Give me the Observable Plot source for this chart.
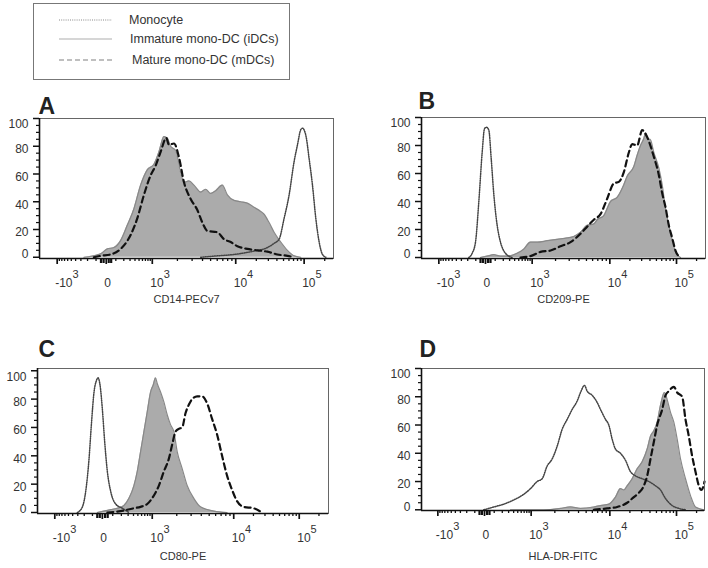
<!DOCTYPE html>
<html><head><meta charset="utf-8">
<script src="https://cdn.jsdelivr.net/npm/d3@7"></script>
<script src="https://cdn.jsdelivr.net/npm/@observablehq/plot@0.6"></script>
<style>
body{margin:0;background:#fff;}
#wrap{position:relative;width:708px;height:568px;font-family:"Liberation Sans",Arial,sans-serif;color:#333;overflow:hidden;}
.panel{position:absolute;}
#legend{position:absolute;left:33px;top:3px;width:257px;height:77px;border:1px solid #777;box-sizing:border-box;}
</style></head><body><div id="wrap"></div>
<script>
// ---------------- data ----------------
const seriesNames = ["Monocyte", "Immature mono-DC (iDCs)", "Mature mono-DC (mDCs)"];
const panelLetters = ["A", "B", "C", "D"];
const markerNames = ["CD14-PECv7", "CD209-PE", "CD80-PE", "HLA-DR-FITC"];
const tickLabels = ["-10^3", "0", "10^3", "10^4", "10^5"];
const yTickValues = [0, 20, 40, 60, 80, 100];

// channel positions (logicle display channels) of the labelled fluorescence values, per panel
const tickChA = [53, 200, 338, 588, 793];
const tickChB = [52, 192, 332, 565, 765];
const tickChC = [52, 195, 345, 590, 787];
const tickChD = [49, 189, 329, 565, 765];
const channelMaxA = 881, channelMaxB = 852, channelMaxC = 875, channelMaxD = 849;

// Panel A: CD14
const monoA_x = [483,533,583,633,683,703,718,733,748,763,773,783,788,798,808,818,828,838,848,858];
const monoA_y = [0,1,2,4,7,10,13,28,45,69,81,92,93,88,71,52,28,11,2,0];
const idcA_x = [133,183,203,223,243,263,283,303,323,343,358,373,383,393,408,423,433,448,463,483,498,513,528,548,563,583,603,623,643,663,673,688,703,723,743,763,783];
const idcA_y = [0,2.4,6,7,12,23,35,52,63,67,76,87,86,80,77,61,54,55,52,47,49,46,48,52,45,41,40,39,36,33,31,25,18,11,5,1,0];
const mdcA_x = [163,183,213,243,273,293,313,333,348,363,380,388,403,418,433,453,473,488,503,533,553,573,593,623,653,683,713,743,763];
const mdcA_y = [0,1,2,6,16,28,45,59,66,76,86,81,82,72,54,42,34,25,19,18,13,11,8,6,5,4,2,1,0];

// Panel B: CD209
const monoB_x = [142,152,162,172,182,189,195,202,209,217,227,237,252,272];
const monoB_y = [0,3,11,40,75,92,93,91,71,45,23,11,3,0];
const idcB_x = [177,197,217,237,257,287,307,327,347,377,407,437,457,477,497,517,527,547,567,587,607,617,637,647,657,667,672,679,687,697,712,722,732,747,762,777];
const idcB_y = [0,1,2,1,1,3,6,11,11,12,13,14,15,18,23,24,27,30,40,43,52,58,65,73,80,85,89,85,84,75,64,52,35,18,4,0];
const mdcB_x = [297,327,357,387,417,447,477,497,517,537,557,577,592,607,622,632,647,662,677,697,712,722,732,742,752,762,777];
const mdcB_y = [0,1,4,5,8,11,17,22,27,31,42,53,54,61,75,81,80,91,86,72,59,46,36,23,14,5,0];

// Panel C: CD80
const monoC_x = [120,135,145,155,162,170,177,182,188,195,202,210,220,235,255,275];
const monoC_y = [0,4,15,38,62,85,93,95,90,73,50,29,15,6,3,0];
const idcC_x = [180,200,220,240,260,275,290,300,310,320,330,340,348,355,360,370,380,390,400,410,420,435,450,470,490,530,570];
const idcC_y = [0,1,2,3,5,10,19,29,43,57,71,85,90,95,91,85,78,69,62,57,43,31,19,10,4,1,0];
const mdcC_x = [210,250,290,310,330,350,365,380,395,405,415,425,435,445,455,465,480,495,510,525,540,555,570,585,600,620,650,675];
const mdcC_y = [0,1,3,4,6,12,19,29,38,48,57,59,60,70,76,80,82,82,77,66,55,40,26,16,8,4,3,0];

// Panel D: HLA-DR
const monoD_x = [187,217,247,277,307,327,347,362,377,392,407,422,437,452,467,477,489,497,512,527,537,552,562,572,582,597,612,627,642,662,682,702,717,732,752,772,792];
const monoD_y = [0,2,4,7,11,15,20,22,31,36,45,57,64,71,77,83,88,84,81,76,71,64,60,50,43,40,35,27,24,22,20,17,14,8,3,1,0];
const idcD_x = [267,367,417,447,477,517,537,562,582,597,607,617,632,647,662,677,687,697,707,717,729,737,747,757,767,777,792,807,822,847];
const idcD_y = [0,0,1,2,1,2,3,4,9,15,14,17,22,29,34,43,52,56,62,74,83,78,69,62,50,36,22,10,2,0];
const mdcD_x = [517,557,587,617,637,652,667,677,687,697,707,722,732,742,757,767,782,792,802,812,822,832,839,845,849];
const mdcD_y = [0,1,2,5,9,12,17,24,36,48,60,71,81,84,87,83,80,64,52,38,27,17,14,16,20];

// ---------------- helpers ----------------
const pts = (xs, ys) => xs.map((x, i) => ({x, y: ys[i]}));
const fLin = v => Math.asinh(v / 200) / Math.asinh(1000 / 200);

function minorTicks(p, xmax) {
  const out = [];
  for (let m = 1; m <= 9; m++) {
    out.push(p[1] + (p[2] - p[1]) * fLin(m * 100));
    out.push(p[1] - (p[1] - p[0]) * fLin(m * 100));
  }
  for (let k = 2; k < 4; k++)
    for (let m = 2; m <= 9; m++) out.push(p[k] + (p[k + 1] - p[k]) * Math.log10(m));
  const dec = p[4] - p[3];
  for (let m = 2; m <= 9; m++) { const x = p[4] + dec * Math.log10(m); if (x <= xmax) out.push(x); }
  return out;
}
function zeroCluster(p) {
  const out = [];
  for (const v of [25, 50]) { out.push(p[1] + (p[2] - p[1]) * fLin(v)); out.push(p[1] - (p[1] - p[0]) * fLin(v)); }
  return out;
}

const layouts = [
  {left: 0,   top: 85,  width: 345, height: 220, mL: 39, mR: 12, mT: 33, mB: 47, lDx: -1, lDy: -12, tDy: 44},
  {left: 360, top: 85,  width: 348, height: 220, mL: 61, mR: 3,  mT: 32, mB: 47, lDx: -3, lDy: -16, tDy: 44},
  {left: 0,   top: 325, width: 345, height: 243, mL: 37, mR: 17, mT: 43, mB: 55, lDx: 1,  lDy: -19, tDy: 46},
  {left: 360, top: 325, width: 348, height: 243, mL: 61, mR: 4,  mT: 43, mB: 58, lDx: -2, lDy: -19, tDy: 49}
];
const panels = [
  {ticks: tickChA, xmax: channelMaxA, yDom: [-0.9, 100], mono: pts(monoA_x, monoA_y), idc: pts(idcA_x, idcA_y), mdc: pts(mdcA_x, mdcA_y)},
  {ticks: tickChB, xmax: channelMaxB, yDom: [-0.7, 100], mono: pts(monoB_x, monoB_y), idc: pts(idcB_x, idcB_y), mdc: pts(mdcB_x, mdcB_y)},
  {ticks: tickChC, xmax: channelMaxC, yDom: [-0.7, 101.6], mono: pts(monoC_x, monoC_y), idc: pts(idcC_x, idcC_y), mdc: pts(mdcC_x, mdcC_y)},
  {ticks: tickChD, xmax: channelMaxD, yDom: [-0.5, 100], mono: pts(monoD_x, monoD_y), idc: pts(idcD_x, idcD_y), mdc: pts(mdcD_x, mdcD_y)}
];

const wrap = d3.select("#wrap");
const AX = "#111";

panels.forEach((P, i) => {
  const L = layouts[i];
  const innerH = L.height - L.mT - L.mB;
  const tickData = P.ticks.map((ch, j) => ({ch, label: tickLabels[j]}));
  const xTicks = (vals, len, sw) => Plot.tickX(vals, {x: d => d, insetTop: innerH, insetBottom: -len, stroke: AX, strokeWidth: sw});
  const yTicks = (vals, len, sw) => Plot.ruleY(vals, {y: d => d, x1: 0, x2: 0, insetLeft: -len, stroke: AX, strokeWidth: sw});
  const yLab = (vals, dy) => Plot.axisY({ticks: vals, tickSize: 0, tickPadding: 11, label: null, dy, fontSize: 12, fill: "#333"});
  const svg = Plot.plot({
    width: L.width, height: L.height,
    marginLeft: L.mL, marginRight: L.mR, marginTop: L.mT, marginBottom: L.mB,
    x: {domain: [0, P.xmax], axis: null},
    y: {domain: P.yDom, axis: null},
    style: {fontFamily: '"Liberation Sans", Arial, sans-serif', fontSize: "12px", color: "#222", background: "transparent", overflow: "visible"},
    marks: [
      Plot.areaY(P.idc, {x: "x", y: "y", fill: "#ababab", curve: "monotone-x"}),
      Plot.lineY(P.idc, {x: "x", y: "y", stroke: "#888", strokeWidth: 1.2, curve: "monotone-x"}),
      Plot.lineY(P.mono, {x: "x", y: "y", stroke: "#444", strokeWidth: 1.5, strokeDasharray: "1,1.3", curve: "monotone-x"}),
      Plot.lineY(P.mdc, {x: "x", y: "y", stroke: "#111", strokeWidth: 2.2, strokeDasharray: "6,4", curve: "monotone-x"}),
      Plot.frame({stroke: "#666"}),
      Plot.ruleX([0], {stroke: AX, strokeWidth: 1.6}),
      Plot.ruleY([P.yDom[0]], {stroke: AX, strokeWidth: 1.6}),
      yTicks(yTickValues, 6, 1.5),
      yTicks(d3.range(5, 100, 5).filter(v => v % 20 !== 0), 3, 1.2),
      yLab([20, 40, 60, 80], 3),
      yLab([100], 6),
      yLab([0], -3),
      xTicks(P.ticks, 6, 1.7),
      xTicks(minorTicks(P.ticks, P.xmax), 3, 1.3),
      xTicks(zeroCluster(P.ticks), 5, 2.2),
      Plot.text(tickData, {x: "ch", text: "label", frameAnchor: "bottom", lineAnchor: "bottom", dy: 28, dx: -2, textAnchor: "start", fontSize: 12, fill: "#333"}),
      Plot.text([markerNames[i]], {text: d => d, frameAnchor: "bottom", lineAnchor: "bottom", dy: L.tDy, fontSize: 11, fill: "#333"}),
      Plot.text([panelLetters[i]], {text: d => d, frameAnchor: "top-left", lineAnchor: "middle", dx: L.lDx, dy: L.lDy, textAnchor: "start", fontSize: 23, fontWeight: "bold", fill: "#222"})
    ]
  });
  // superscript exponents in tick labels
  d3.select(svg).selectAll("text").each(function () {
    const t = this.textContent;
    if (t.includes("^")) {
      const [base, exp] = t.split("^");
      const s = d3.select(this);
      s.text(null);
      s.append("tspan").text(base);
      s.append("tspan").attr("dy", "-0.75em").attr("font-size", "11px").text(exp);
    }
  });
  wrap.append("div").attr("class", "panel")
    .style("left", L.left + "px").style("top", L.top + "px")
    .node().appendChild(svg);
});

// ---------------- legend ----------------
const legendStyles = [
  {stroke: "#888", width: 1, dash: "1,1.2"},
  {stroke: "#c8c8c8", width: 1.5, dash: null},
  {stroke: "#aaa", width: 1.3, dash: "5,3"}
];
const legendRowsY = [16, 35, 56];
const legendTextX = [95, 96, 98];
const lg = wrap.append("div").attr("id", "legend");
const ls = lg.append("svg").attr("width", 255).attr("height", 75).style("display", "block");
seriesNames.forEach((name, j) => {
  const st = legendStyles[j];
  ls.append("line").attr("x1", 25).attr("x2", 78).attr("y1", legendRowsY[j]).attr("y2", legendRowsY[j])
    .attr("stroke", st.stroke).attr("stroke-width", st.width).attr("stroke-dasharray", st.dash);
  ls.append("text").attr("x", legendTextX[j]).attr("y", legendRowsY[j]).attr("dy", "0.35em")
    .attr("font-size", 12.5).attr("fill", "#333").attr("font-family", '"Liberation Sans", Arial, sans-serif')
    .text(name);
});
</script>
</body></html>
